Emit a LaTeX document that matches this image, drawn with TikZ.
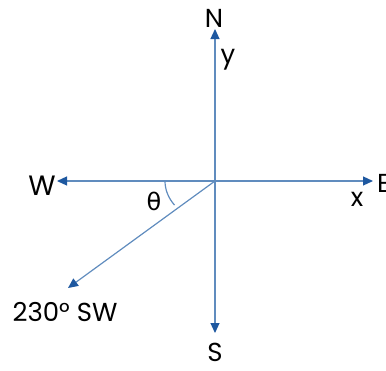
\documentclass[tikz,border=0pt]{standalone}
\usepackage{fontspec}
\setmainfont{Poppins}
\newfontfamily\greekfont{DejaVu Sans}
\usetikzlibrary{arrows.meta, positioning}
\definecolor{axisblue}{RGB}{96,140,190}
\definecolor{tipblue}{RGB}{30,88,160}

\begin{document}
\begin{tikzpicture}[x=1pt, y=-1pt, axis/.style={draw=axisblue, line width=1.2pt, -{Triangle[length=10pt, width=9pt, color=tipblue, fill=tipblue]}}, lbl/.style={inner sep=0pt, font=\fontsize{26}{30}\selectfont}]
    \useasboundingbox (0,0) rectangle (386,370);
    % Origin and arrow tips
    \coordinate (O) at (215,181);
    \coordinate (tipN) at (215,29);
    \coordinate (tipS) at (215,333);
    \coordinate (tipW) at (57,181);
    \coordinate (tipE) at (373,181);
    \coordinate (tipSW) at (68,288);

    % Compass labels
    \node[lbl] (north) at (214,18) {N};
    \node[lbl] (south) at (215,352) {S};
    \node[lbl, font=\fontsize{28}{30}\selectfont] (west) at (42,186) {W};
    \node[lbl, anchor=west] (east) at (377,183) {E};
    \node[lbl] (ylbl) at (228,60) {y};
    \node[lbl] (xlbl) at (357,199) {x};
    \node[lbl, font=\fontsize{24}{28}\selectfont] (theta) at (154,201) {\greekfont θ};
    \node[lbl] (bearing) at (65,312) {230° SW};

    % Axes
    \draw[axis] (O) -- (tipN);
    \draw[axis] (O) -- (tipS);
    \draw[axis] (O) -- (tipW);
    \draw[axis] (O) -- (tipE);
    \draw[axis] (O) -- (tipSW);
    \draw[axisblue, line width=1.2pt] (O) ++(180:50) arc[start angle=180, end angle=144, x radius=50, y radius=41];
\end{tikzpicture}
\end{document}
